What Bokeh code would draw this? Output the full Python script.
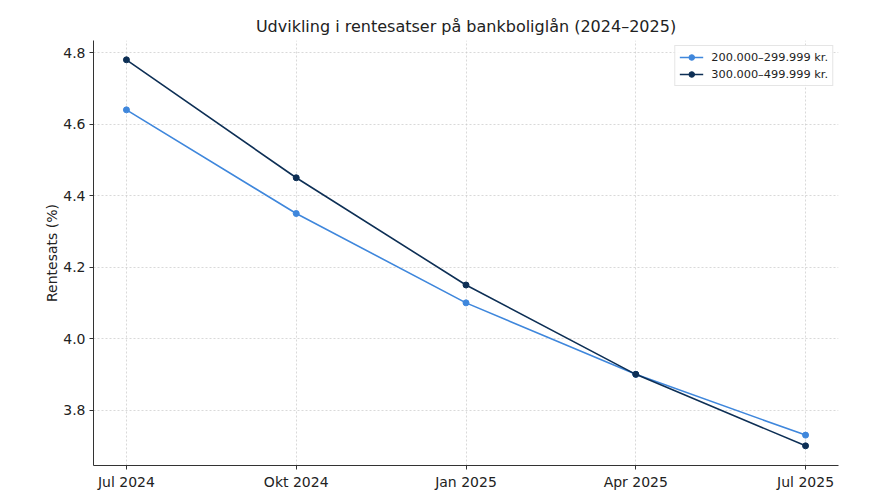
from bokeh.plotting import figure
from bokeh.models import ColumnDataSource, Range1d, FixedTicker, Legend, LegendItem
from bokeh.embed import file_html
from bokeh.resources import INLINE

months = ["Jul 2024", "Okt 2024", "Jan 2025", "Apr 2025", "Jul 2025"]
rate_200_300 = [4.64, 4.35, 4.10, 3.90, 3.73]
rate_300_500 = [4.78, 4.45, 4.15, 3.90, 3.70]
series_names = ["200.000–299.999 kr.", "300.000–499.999 kr."]
y_ticks = [3.8, 4.0, 4.2, 4.4, 4.6, 4.8]

x_idx = list(range(len(months)))
FONT = "DejaVu Sans"

p = figure(width=880, height=493, output_backend="svg", toolbar_location=None,
           x_range=Range1d(-0.194, 4.194), y_range=Range1d(3.645, 4.834),
           min_border_left=93, min_border_right=42, min_border_top=40, min_border_bottom=28)

p.title.text = "Udvikling i rentesatser på bankboliglån (2024–2025)"
p.title.align = "center"
p.title.text_font = FONT
p.title.text_font_size = "12pt"
p.title.text_font_style = "normal"
p.title.text_color = "#222222"

p.outline_line_color = None
p.background_fill_color = "white"
p.border_fill_color = "white"

for ax in (p.xaxis[0], p.yaxis[0]):
    ax.axis_line_color = "#333333"
    ax.axis_line_width = 1
    ax.major_tick_line_color = "#333333"
    ax.major_tick_out = 4
    ax.major_tick_in = 0
    ax.minor_tick_line_color = None
    ax.major_label_text_font = FONT
    ax.major_label_text_font_size = "10.5pt"
    ax.major_label_text_color = "#222222"
    ax.major_label_standoff = 4

p.xaxis.ticker = FixedTicker(ticks=x_idx)
p.xaxis.major_label_overrides = {i: m for i, m in zip(x_idx, months)}
p.yaxis.ticker = FixedTicker(ticks=y_ticks)
p.yaxis.major_label_overrides = {t: f"{t:.1f}" for t in y_ticks}
p.yaxis.axis_label = "Rentesats (%)"
p.yaxis.axis_label_text_font = FONT
p.yaxis.axis_label_text_font_size = "10.5pt"
p.yaxis.axis_label_text_font_style = "normal"
p.yaxis.axis_label_text_color = "#222222"
p.yaxis.axis_label_standoff = 0

for g in (p.xgrid[0], p.ygrid[0]):
    g.grid_line_color = "#c8c8c8"
    g.grid_line_dash = "2 2"
    g.grid_line_width = 0.7

src = ColumnDataSource(dict(x=x_idx, a=rate_200_300, b=rate_300_500))
c1, c2 = "#3f87dc", "#0d2f55"
l1 = p.line("x", "a", source=src, line_color=c1, line_width=1.6)
m1 = p.scatter("x", "a", source=src, size=6, fill_color=c1, line_color=c1)
l2 = p.line("x", "b", source=src, line_color=c2, line_width=1.6)
m2 = p.scatter("x", "b", source=src, size=6, fill_color=c2, line_color=c2)

legend = Legend(items=[LegendItem(label=series_names[0], renderers=[l1, m1]),
                       LegendItem(label=series_names[1], renderers=[l2, m2])],
                location="top_right")
legend.label_text_font = FONT
legend.label_text_font_size = "8.5pt"
legend.label_text_color = "#222222"
legend.border_line_color = "#cccccc"
legend.border_line_width = 1
legend.background_fill_alpha = 0.9
legend.glyph_width = 24
legend.glyph_height = 14
legend.spacing = 3
legend.padding = 4
legend.margin = 5
legend.label_standoff = 8
p.add_layout(legend, "center")

open("out.html", "w").write(file_html(p, INLINE))
